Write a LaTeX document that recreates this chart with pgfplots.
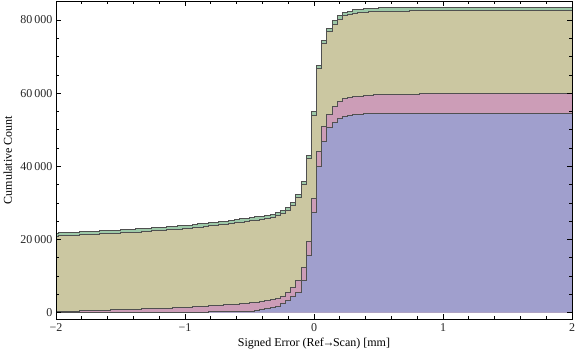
\documentclass[border=0pt]{standalone}
\usepackage{pgfplots}
\pgfplotsset{compat=1.18}
\usepackage{pgfplotstable}
\usepackage{fontspec}
\setmainfont{Liberation Serif}

\definecolor{cBlue}{HTML}{A09FCD}
\definecolor{cPink}{HTML}{CC9DB7}
\definecolor{cOlive}{HTML}{CBC7A1}
\definecolor{cGreen}{HTML}{9DC9A8}
\definecolor{cEdge}{HTML}{505050}

% left bin edge, stacked tops: blue B, pink P, olive O, green G
\pgfplotstableread{
x B P O G
-2.02 20 300 20900 21750
-1.98 25 340 20970 21820
-1.94 30 380 21040 21890
-1.90 35 420 21110 21960
-1.86 40 460 21180 22030
-1.82 45 500 21250 22100
-1.78 50 540 21320 22170
-1.74 52 580 21390 22240
-1.70 55 620 21460 22310
-1.66 58 660 21530 22380
-1.62 60 700 21600 22450
-1.58 65 745 21670 22520
-1.54 70 790 21740 22590
-1.50 75 835 21810 22660
-1.46 80 880 21880 22730
-1.42 85 925 21950 22800
-1.38 90 970 22050 22900
-1.34 95 1015 22150 23000
-1.30 100 1060 22250 23100
-1.26 105 1105 22350 23200
-1.22 110 1150 22450 23300
-1.18 115 1210 22550 23400
-1.14 120 1270 22650 23500
-1.10 130 1330 22750 23600
-1.06 135 1390 22850 23700
-1.02 140 1450 22950 23800
-0.98 150 1530 23070 23950
-0.94 160 1610 23220 24100
-0.90 175 1690 23380 24260
-0.86 190 1770 23540 24420
-0.82 205 1850 23700 24580
-0.78 220 1940 23860 24740
-0.74 240 2030 24020 24900
-0.70 260 2120 24180 25060
-0.66 285 2210 24370 25250
-0.62 310 2300 24570 25450
-0.58 340 2420 24740 25620
-0.54 390 2550 24920 25800
-0.50 460 2730 25120 26000
-0.46 660 2840 25320 26200
-0.42 930 3010 25540 26420
-0.38 1090 3280 25810 26690
-0.34 1370 3660 26090 26970
-0.30 1640 3930 26440 27320
-0.26 2380 4560 27100 27980
-0.22 3280 5460 27920 28800
-0.18 4370 6830 29260 30160
-0.14 5460 8930 31450 32350
-0.10 8740 12400 35080 35980
-0.06 15570 19400 42190 43090
-0.02 27430 31260 54020 54920
0.02 40080 44000 66700 67600
0.06 46720 50820 73530 74430
0.10 50550 54200 76800 77700
0.14 51910 56280 78880 79780
0.18 53110 57650 80250 81150
0.22 53740 58470 81150 82080
0.26 54020 58930 81500 82430
0.30 54290 59210 81870 82800
0.34 54290 59210 82020 82950
0.38 54370 59400 82170 83100
0.42 54370 59400 82270 83200
0.46 54480 59670 82320 83250
0.50 54480 59670 82350 83280
0.54 54480 59670 82370 83300
0.74 54480 59670 82550 83500
0.82 54480 59940 82550 83500
2.02 54480 59940 82550 83500
}\data

\begin{document}
\begin{tikzpicture}
\begin{axis}[
  scale only axis,
  width=516bp, height=318bp,
  xmin=-2, xmax=2, ymin=-1720, ymax=85190,
  axis line style={line width=0.9bp, black},
  tick style={line width=0.7bp, black},
  tick align=inside,
  major tick length=5bp, minor tick length=3bp,
  xtick={-2,-1,0,1,2},
  xticklabels={−2,−1,0,1,2},
  ytick={0,20000,40000,60000,80000},
  yticklabels={0,20\,000,40\,000,60\,000,80\,000},
  minor x tick num=4,
  minor y tick num=3,
  xtick pos=both, ytick pos=both,
  xticklabel pos=left, yticklabel pos=left,
  ticklabel style={font=\fontsize{12bp}{14bp}\selectfont, text=black!85},
  xticklabel style={yshift=-1bp},
  xlabel={Signed Error (Ref\kern-0.12em→\kern-0.12em Scan) [mm]},
  ylabel={Cumulative Count},
  label style={font=\fontsize{12bp}{14bp}\selectfont},
  xlabel style={at={(axis description cs:0.5,-0.088)}, anchor=base},
  ylabel style={at={(axis description cs:-0.0853,0.5)}, anchor=base},
  axis on top,
]
\addplot[const plot, fill=cGreen, draw=none] table[x=x,y=G] {\data} \closedcycle;
\addplot[const plot, fill=cOlive, draw=none] table[x=x,y=O] {\data} \closedcycle;
\addplot[const plot, fill=cPink, draw=none] table[x=x,y=P] {\data} \closedcycle;
\addplot[const plot, fill=cBlue, draw=none] table[x=x,y=B] {\data} \closedcycle;
\addplot[const plot, draw=cEdge, line width=1bp] table[x=x,y=G] {\data};
\addplot[const plot, draw=cEdge, line width=1bp] table[x=x,y=O] {\data};
\addplot[const plot, draw=cEdge, line width=1bp] table[x=x,y=P] {\data};
\addplot[const plot, draw=cEdge, line width=1bp] table[x=x,y=B] {\data};
\end{axis}
\pgfresetboundingbox
\path ([xshift=-56bp,yshift=-40bp]current axis.south west) rectangle ([xshift=4bp,yshift=1bp]current axis.north east);
\end{tikzpicture}
\end{document}
